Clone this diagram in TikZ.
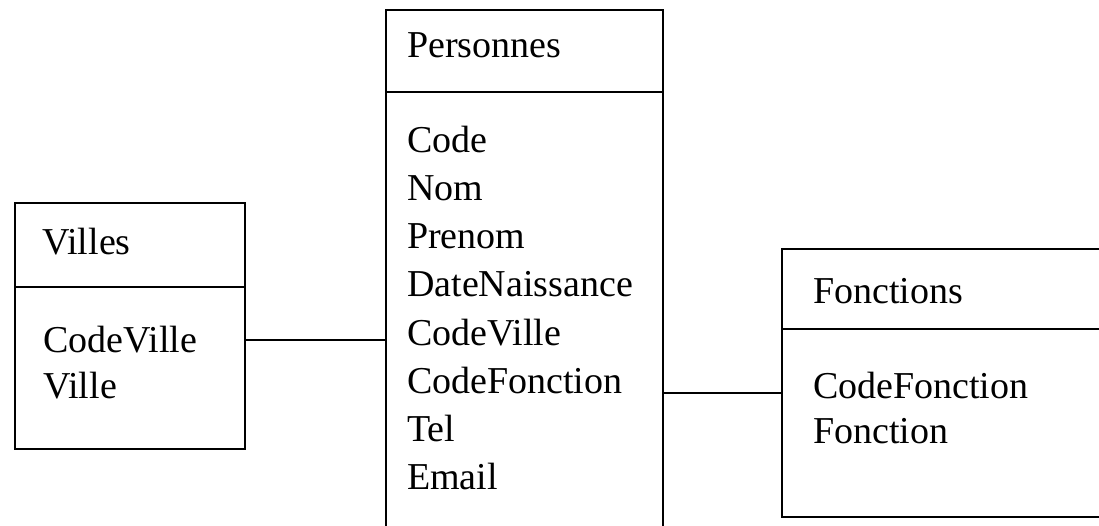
\documentclass[tikz,border=0pt]{standalone}
\usepackage{fontspec}
\setmainfont{Liberation Serif}
\begin{document}
\begin{tikzpicture}[x=1pt,y=-1pt,
  entity/.style={draw, line width=2pt, anchor=north west, inner sep=0pt, outer sep=0pt},
  rule/.style={line width=2pt},
  link/.style={line width=2pt},
  label/.style={anchor=base west, inner sep=0pt, font=\fontsize{38}{48}\selectfont}]
\useasboundingbox (0,0) rectangle (1099,526);
\clip (0,0) rectangle (1099,526);

% Villes
\node[entity, minimum width=230pt, minimum height=246pt] (villes) at (15,203) {};
\draw[rule] (villes.west |- 0,287) -- (villes.east |- 0,287);
\node[label] (villes-title) at (42,255) {Villes};
\node[label] (villes-a1) at (43,352) {CodeVille};
\node[label] (villes-a2) at (43,398) {Ville};

% Personnes
\node[entity, minimum width=277pt, minimum height=540pt] (pers) at (386,10) {};
\draw[rule] (pers.west |- 0,92) -- (pers.east |- 0,92);
\node[label] (pers-title) at (407,58) {Personnes};
\foreach \t [count=\i] in {Code,Nom,Prenom,DateNaissance,CodeVille,CodeFonction,Tel,Email}
  \node[label] (pers-a\i) at (407,{153+48*(\i-1)}) {\t};

% Fonctions
\node[entity, minimum width=340pt, minimum height=268pt] (fonc) at (782,249) {};
\draw[rule] (fonc.west |- 0,329) -- (fonc.east |- 0,329);
\node[label] (fonc-title) at (813,303) {Fonctions};
\node[label] (fonc-a1) at (813,398) {CodeFonction};
\node[label] (fonc-a2) at (813,443) {Fonction};

% links between the tables
\draw[link] (villes.east |- 0,340) -- (pers.west |- 0,340);
\draw[link] (pers.east |- 0,393) -- (fonc.west |- 0,393);
\end{tikzpicture}
\end{document}
